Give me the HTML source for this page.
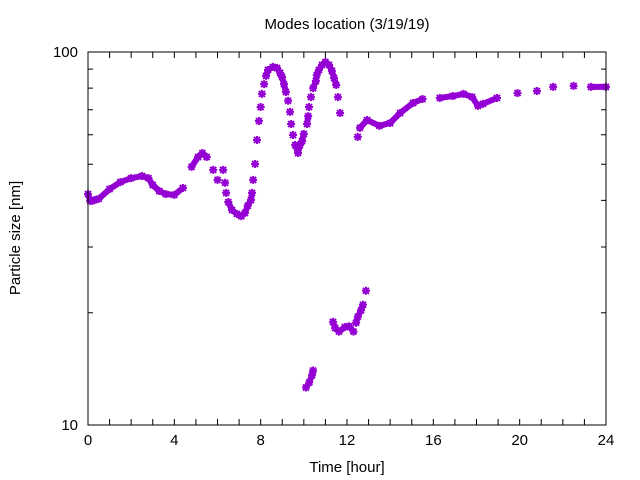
<!DOCTYPE html>
<html><head><meta charset="utf-8"><style>
body{margin:0;background:#fff;}
svg{display:block;font-family:"Liberation Sans",sans-serif;}
</style></head><body>
<svg id="chart" width="640" height="480">
<rect width="640" height="480" fill="#fff"/>
<text x="347" y="29" text-anchor="middle" font-size="15">Modes location (3/19/19)</text>
<text x="347" y="472" text-anchor="middle" font-size="15">Time [hour]</text>
<text transform="translate(20,238) rotate(-90)" text-anchor="middle" font-size="15">Particle size [nm]</text>
<g id="axes"></g>
<g id="marks"></g>
<rect x="88" y="52" width="518" height="373" fill="none" stroke="#000" stroke-width="1"/>
</svg>
<script>
const xTicks=[0,4,8,12,16,20,24];
const yTickLabels=[10,100];
const yMinor=[20,30,40,50,60,70,80,90];
const times=[0,0.1,0.2,0.3,0.5,1,1.5,2,2.5,2.8,3,3.3,3.6,4,4.4,4.8,5.1,5.3,5.5,5.8,6.0,6.26,6.35,6.4,6.5,6.67,6.9,7.1,7.27,7.4,7.55,7.6,7.65,7.74,7.83,7.92,8.0,8.06,8.16,8.25,8.34,8.57,8.76,8.9,8.99,9.08,9.17,9.27,9.36,9.41,9.5,9.6,9.73,9.82,9.92,10.0,10.15,10.2,10.24,10.33,10.43,10.56,10.6,10.7,10.84,11.0,11.17,11.3,11.4,11.5,11.58,11.68,12.5,12.6,12.93,13.5,14,14.46,15.06,15.5,16.3,16.9,17.4,17.8,18.07,18.3,18.95,19.9,20.8,21.55,22.5,23.3,24];
const sizes=[41.6,39.9,39.9,40.1,40.4,42.9,44.8,45.9,46.5,45.9,44.0,42.4,41.6,41.4,43.2,49.2,52.3,53.6,52.3,48.3,45.4,48.3,44.6,41.9,39.6,37.7,36.8,36.3,37.0,38.7,40.1,41.9,45.4,50.1,58.1,65.3,71.2,77.2,82.0,86.3,89.5,91.2,90.6,87.9,85.7,82.0,78.1,74.0,69.1,64.1,59.9,56.3,53.6,56.3,57.7,60.3,64.1,67.3,71.2,75.7,80.0,83.6,86.8,89.5,92.3,94.0,92.3,89.0,85.2,81.6,75.7,68.6,59.2,62.6,65.7,63.4,64.5,68.6,73.0,74.8,75.3,76.2,77.2,75.7,71.7,72.6,75.3,77.6,78.6,80.6,81.1,80.6,80.6];
const times2=[10.1,10.25,10.38,10.43,11.35,11.45,11.63,11.9,12.1,12.3,12.42,12.5,12.65,12.74,12.88];
const sizes2=[12.6,13.0,13.6,14.0,18.9,18.2,17.8,18.3,18.4,17.8,18.8,19.5,20.3,21.0,22.9];

const X0=88,X1=606,Y0=425,Y1=52;
const xs=t=>X0+(t/24)*(X1-X0);
const ys=v=>Y0-(Math.log10(v)-1)*(Y0-Y1);
const NS='http://www.w3.org/2000/svg';
const axes=document.getElementById('axes');
const marks=document.getElementById('marks');
function mk(tag,attrs,parent){const e=document.createElementNS(NS,tag);for(const k in attrs)e.setAttribute(k,attrs[k]);parent.appendChild(e);return e;}
for(let h=0;h<=24;h++){
  const x=xs(h);
  const l=mk('path',{d:`M${x},${Y0}v-6M${x},${Y1}v6`,stroke:'#000','stroke-width':1},axes);
  
  
}
xTicks.forEach(t=>{
  const tx=mk('text',{x:xs(t),y:Y0+20,'text-anchor':'middle','font-size':15},axes);
  tx.textContent=t;
  
  
});
yTickLabels.forEach(v=>{
  const y=ys(v);
  const l=mk('path',{d:`M${X0},${y}h9M${X1},${y}h-9`,stroke:'#000'},axes);
  
  
  const tx=mk('text',{x:X0-10,y:y+5,'text-anchor':'end','font-size':15},axes);
  tx.textContent=v;
  
  
});
yMinor.forEach(v=>{
  const y=ys(v);
  const l=mk('path',{d:`M${X0},${y}h5M${X1},${y}h-5`,stroke:'#000'},axes);
  
  
});
const col='#9400d3';
function drawSeries(ts,vs){
  let seg=[];
  const segs=[];
  for(let i=0;i<ts.length;i++){
    const p=[xs(ts[i]),ys(vs[i])];
    if(seg.length){
      const q=seg[seg.length-1];
      const dx=Math.abs(p[0]-q[0]),dy=Math.abs(p[1]-q[1]);
      const steep=dy>8&&dy>1.6*dx;
      if(steep||ts[i]-ts[i-1]>0.7){segs.push(seg);seg=[];}
    }
    seg.push(p);
  }
  segs.push(seg);
  segs.forEach(s=>{if(s.length>1){
    const pl=mk('polyline',{points:s.map(p=>p.join(',')).join(' '),fill:'none',stroke:col,'stroke-width':6,'stroke-linejoin':'round','stroke-linecap':'round'},marks);
    
    
  }});
  for(let i=0;i<ts.length;i++){
    const x=xs(ts[i]),y=ys(vs[i]);
    const m=mk('path',{d:`M${x-4},${y}h8M${x},${y-4}v8M${x-3},${y-3}l6,6M${x-3},${y+3}l6,-6`,stroke:col,'stroke-width':2},marks);
    
    
  }
}
drawSeries(times,sizes);
drawSeries(times2,sizes2);
</script>
</body></html>
